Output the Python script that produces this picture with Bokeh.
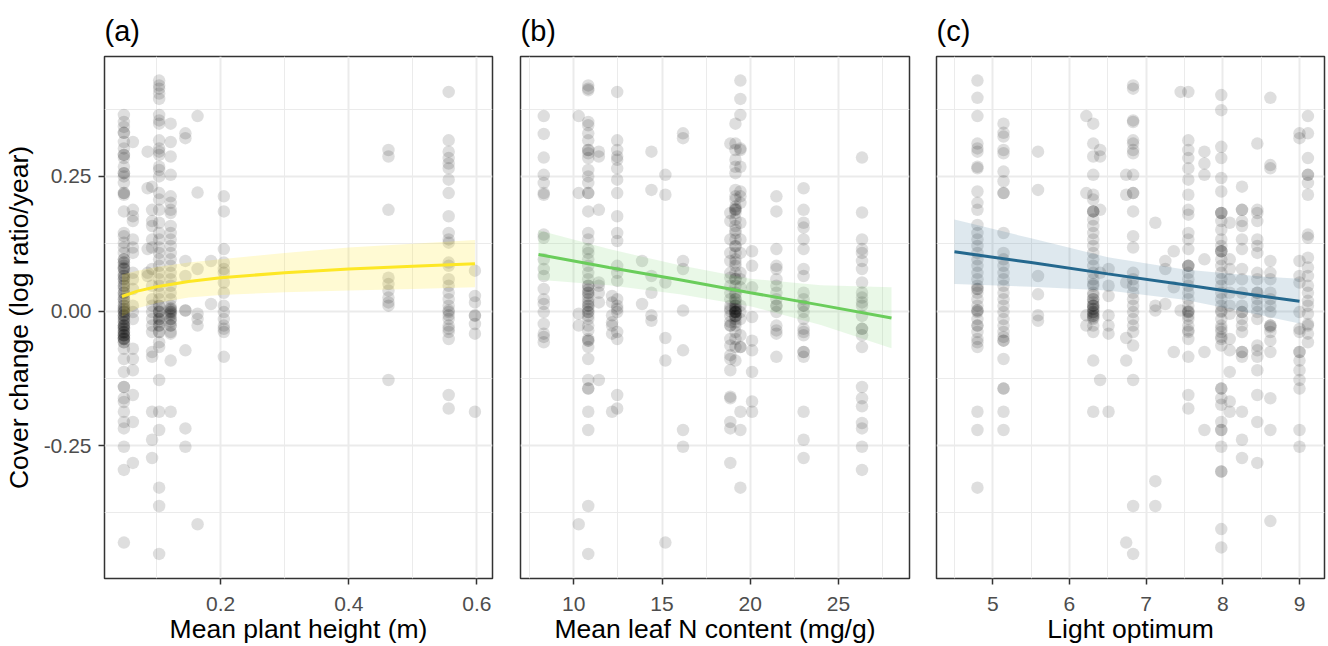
from bokeh.plotting import figure
from bokeh.layouts import row
from bokeh.models import FixedTicker, Range1d, NumeralTickFormatter
from bokeh.embed import file_html
from bokeh.resources import INLINE

# ---------------- data ----------------
# Panel (a): mean plant height (m) -> columns of species values
height_x = [0.049, 0.063, 0.086, 0.093, 0.104, 0.122, 0.145, 0.164, 0.185, 0.205, 0.462, 0.556, 0.597]
height_y = [
    [0.364, 0.351, 0.342, 0.331, 0.331, 0.314, 0.302, 0.290, 0.290, 0.284, 0.268, 0.256, 0.256, 0.250, 0.238,
     0.219, 0.219, 0.216, 0.185, 0.145, 0.139, 0.127, 0.118, 0.108, 0.096, 0.096, 0.090, 0.084, 0.078, 0.071,
     0.065, 0.059, 0.053, 0.047, 0.041, 0.034, 0.028, 0.022, 0.016, 0.010, 0.004, -0.002, -0.008, -0.015,
     -0.021, -0.027, -0.027, -0.033, -0.039, -0.045, -0.052, -0.052, -0.058, -0.070, -0.089, -0.113, -0.141,
     -0.141, -0.162, -0.169, -0.187, -0.206, -0.218, -0.252, -0.295, -0.430,
     0.090, 0.078, 0.065, 0.047, 0.034, 0.022, 0.010, -0.002, -0.015, -0.039, -0.045, -0.058,
     0.004, -0.008, -0.027, -0.033, -0.045, -0.052,
     0.000, -0.010, -0.020, -0.030, -0.040, -0.050, 0.060, 0.080],
    [0.314, 0.188, 0.176, 0.167, 0.133, 0.118, 0.108, 0.071, 0.059, 0.041, 0.010, -0.002, -0.015, -0.070,
     -0.089, -0.110, -0.156, -0.206, -0.282],
    [0.296, 0.228, 0.115, 0.071, 0.065],
    [0.231, 0.188, 0.167, 0.158, 0.133, 0.118, 0.078, 0.047, 0.022, 0.010, -0.002, -0.015, -0.027, -0.039,
     -0.076, -0.085, -0.187, -0.239, -0.273],
    [0.428, 0.419, 0.413, 0.404, 0.394, 0.364, 0.354, 0.348, 0.317, 0.302, 0.296, 0.290, 0.268, 0.262, 0.250,
     0.219, 0.207, 0.188, 0.164, 0.145, 0.133, 0.118, 0.108, 0.096, 0.084, 0.071, 0.059, 0.047, 0.034, 0.022,
     0.010, -0.002, -0.015, -0.027, -0.039, -0.002, -0.015, -0.027, -0.039, -0.058, -0.067, -0.128, -0.187,
     -0.221, -0.328, -0.362, -0.451, 0.000, -0.010, -0.020, 0.010],
    [0.348, 0.314, 0.287, 0.253, 0.213, 0.201, 0.188, 0.182, 0.158, 0.145, 0.133, 0.121, 0.108, 0.096, 0.084,
     0.071, 0.059, 0.047, 0.034, 0.022, 0.010, 0.004, -0.002, -0.015, -0.027, -0.039, -0.002, -0.027, -0.042,
     -0.092, -0.187, 0.001, -0.008, -0.020, -0.005, -0.015, 0.005],
    [0.330, 0.321, 0.093, 0.065, 0.001, 0.001, -0.073, -0.218, -0.252],
    [0.362, 0.220, 0.078, -0.005, -0.015, -0.027, -0.396],
    [0.093, 0.013],
    [0.213, 0.185, 0.115, 0.090, 0.078, 0.071, 0.053, 0.034, 0.010, -0.002, -0.015, -0.027, -0.039, -0.033,
     -0.085],
    [0.299, 0.287, 0.188, 0.062, 0.050, 0.038, 0.025, 0.016, 0.010, -0.128],
    [0.407, 0.317, 0.296, 0.284, 0.274, 0.265, 0.244, 0.219, 0.176, 0.145, 0.133, 0.127, 0.090, 0.084, 0.059,
     0.047, 0.034, 0.022, 0.010, 0.001, -0.002, -0.008, -0.027, -0.039, -0.015, -0.033, -0.052, -0.156, -0.181],
    [0.075, 0.028, 0.016, -0.008, -0.024, -0.042, -0.009, -0.187],
]
height_fit_x = [0.046, 0.07, 0.1, 0.15, 0.2, 0.3, 0.4, 0.5, 0.597]
height_fit_y = [0.027, 0.037, 0.045, 0.055, 0.062, 0.071, 0.078, 0.083, 0.088]
height_fit_lo = [-0.010, 0.005, 0.015, 0.025, 0.030, 0.035, 0.038, 0.041, 0.044]
height_fit_hi = [0.068, 0.075, 0.082, 0.090, 0.096, 0.108, 0.118, 0.125, 0.132]

# Panel (b): mean leaf N content (mg/g)
leafn_x = [8.3, 10.28, 10.82, 11.42, 12.17, 12.46, 13.87, 14.40, 15.19, 16.19, 18.87, 19.16, 19.44, 20.10,
           21.48, 23.02, 26.33]
leafn_y = [
    [0.362, 0.329, 0.285, 0.253, 0.238, 0.219, 0.216, 0.142, 0.136, 0.096, 0.078, 0.065, 0.041, 0.022, 0.013,
     -0.002, -0.024, -0.042, -0.048, -0.058],
    [0.362, 0.219, -0.005, -0.027, -0.396],
    [0.419, 0.413, 0.410, 0.351, 0.345, 0.330, 0.317, 0.299, 0.299, 0.293, 0.284, 0.262, 0.250, 0.238, 0.219,
     0.219, 0.185, 0.145, 0.133, 0.115, 0.108, 0.096, 0.084, 0.071, 0.059, 0.047, 0.047, 0.034, 0.034, 0.028,
     0.022, 0.010, 0.010, 0.004, -0.002, -0.009, -0.015, -0.027, -0.036, -0.052, -0.055, -0.055, -0.067,
     -0.089, -0.128, -0.144, -0.144, -0.187, -0.221, -0.362, -0.451, 0.040, 0.016, -0.002],
    [0.296, 0.287, 0.188, 0.053, 0.047, 0.034, 0.016, -0.128],
    [0.028, 0.016, -0.008, -0.021, -0.027, -0.042, -0.187],
    [0.407, 0.317, 0.299, 0.287, 0.281, 0.265, 0.244, 0.219, 0.176, 0.145, 0.130, 0.084, 0.071, 0.056, 0.022,
     0.010, 0.004, -0.002, -0.039, -0.052, -0.156, -0.181],
    [0.093, 0.013],
    [0.296, 0.225, 0.065, 0.034, -0.008, -0.018],
    [0.253, 0.216, 0.053, -0.050, -0.092, -0.430],
    [0.330, 0.321, 0.093, 0.078, 0.001, -0.073, -0.221, -0.252],
    [0.311, 0.182, 0.167, 0.133, 0.108, 0.093, 0.071, 0.062, 0.047, 0.034, 0.022, 0.010, 0.004, -0.009,
     -0.027, -0.027, -0.052, -0.064, -0.082, -0.089, -0.110, -0.159, -0.162, -0.206, -0.218, -0.282,
     0.000, -0.020],
    [0.348, 0.311, 0.299, 0.281, 0.268, 0.256, 0.225, 0.213, 0.207, 0.194, 0.188, 0.188, 0.182, 0.170, 0.158,
     0.145, 0.133, 0.121, 0.108, 0.096, 0.084, 0.071, 0.059, 0.047, 0.034, 0.022, 0.010, -0.002, -0.002, 0.004,
     -0.009, -0.015, -0.021, -0.027, -0.039, -0.052, -0.067, -0.092, 0.010, 0.016, -0.002, -0.009,
     0.004, -0.002, 0.022, 0.150, 0.120, 0.090, 0.060, 0.030, 0.000, -0.010, 0.190],
    [0.428, 0.394, 0.364, 0.302, 0.299, 0.268, 0.222, 0.213, 0.201, 0.164, 0.133, 0.108, 0.071, 0.059, 0.044,
     0.010, -0.002, -0.015, -0.045, -0.067, -0.067, -0.187, -0.221, -0.328],
    [0.111, 0.084, 0.044, -0.011, -0.055, -0.073, -0.113, -0.168, -0.187],
    [0.213, 0.185, 0.115, 0.084, 0.078, 0.059, 0.047, 0.034, 0.022, 0.010, 0.010, -0.002, -0.027, -0.036,
     -0.042, -0.085],
    [0.228, 0.188, 0.164, 0.155, 0.133, 0.115, 0.078, 0.065, 0.034, 0.022, 0.010, 0.010, -0.002, -0.015,
     -0.033, -0.039, -0.045, -0.076, -0.076, -0.085, -0.187, -0.239, -0.273],
    [0.285, 0.183, 0.133, 0.115, 0.108, 0.093, 0.078, 0.053, 0.034, 0.025, 0.016, 0.010, -0.009, -0.033,
     -0.033, -0.045, -0.067, -0.141, -0.162, -0.177, -0.208, -0.218, -0.252, -0.295],
]
leafn_fit_x = [8, 12, 16, 20, 24, 28]
leafn_fit_y = [0.105, 0.081, 0.058, 0.034, 0.011, -0.013]
leafn_fit_lo = [0.058, 0.048, 0.031, 0.009, -0.026, -0.069]
leafn_fit_hi = [0.150, 0.115, 0.085, 0.060, 0.048, 0.044]

# Panel (c): light optimum
light_x = [4.80, 5.14, 5.59, 6.22, 6.31, 6.40, 6.51, 6.74, 6.83, 7.12, 7.25, 7.36, 7.45, 7.55, 7.76, 7.98,
           8.09, 8.25, 8.45, 8.62, 9.00, 9.11]
light_y = [
    [0.428, 0.396, 0.362, 0.311, 0.302, 0.296, 0.268, 0.265, 0.222, 0.201, 0.188, 0.160, 0.145, 0.133, 0.121,
     0.108, 0.096, 0.084, 0.071, 0.059, 0.047, 0.041, 0.041, 0.034, 0.022, 0.010, 0.001, 0.001, -0.002, -0.015,
     -0.027, -0.027, -0.039, -0.052, -0.058, -0.067, -0.187, -0.221, -0.328],
    [0.348, 0.331, 0.324, 0.299, 0.293, 0.259, 0.241, 0.219, 0.219, 0.145, 0.108, 0.096, 0.084, 0.071, 0.059,
     0.047, 0.034, 0.022, 0.010, -0.002, -0.015, -0.027, -0.039, -0.048, -0.055, -0.055, -0.089, -0.144,
     -0.144, -0.187, -0.221],
    [0.296, 0.225, 0.065, 0.031, -0.008, -0.018],
    [0.362, 0.219, -0.008, -0.027],
    [0.348, 0.311, 0.287, 0.253, 0.216, 0.207, 0.185, 0.185, 0.170, 0.158, 0.145, 0.133, 0.121, 0.108, 0.096,
     0.084, 0.071, 0.059, 0.047, 0.034, 0.022, 0.022, 0.010, 0.010, -0.002, -0.002, -0.015, -0.027, -0.039,
     0.004, -0.009, -0.009, -0.092, -0.187, 0.016, 0.004, -0.005, -0.012, 0.030, 0.050, 0.185, 0.010],
    [0.299, 0.287, 0.188, 0.071, -0.128],
    [0.078, 0.047, 0.028, -0.008, -0.027, -0.042, -0.187],
    [0.253, 0.216, 0.053, -0.050, -0.092, -0.430],
    [0.419, 0.413, 0.354, 0.351, 0.317, 0.311, 0.299, 0.293, 0.253, 0.219, 0.219, 0.185, 0.139, 0.118, 0.071,
     0.059, 0.047, 0.034, 0.022, 0.010, -0.002, -0.015, -0.027, -0.039, -0.064, -0.128, -0.362, -0.451],
    [0.164, 0.010, 0.001, -0.316, -0.362],
    [0.093, 0.078, 0.013],
    [0.111, 0.044, -0.076],
    [0.407, 0.001],
    [0.407, 0.317, 0.299, 0.284, 0.265, 0.244, 0.216, 0.188, 0.179, 0.145, 0.133, 0.115, 0.084, 0.084, 0.071,
     0.059, 0.047, 0.034, 0.022, 0.010, -0.002, -0.002, -0.015, -0.027, -0.039, -0.009, -0.036, -0.052,
     -0.085, -0.156, -0.181, 0.000, 0.084],
    [0.296, 0.274, 0.253, 0.096, -0.076, -0.221],
    [0.401, 0.373, 0.305, 0.284, 0.247, 0.222, 0.182, 0.182, 0.167, 0.151, 0.133, 0.121, 0.111, 0.111, 0.096,
     0.084, 0.071, 0.059, 0.047, 0.034, 0.022, 0.010, -0.002, -0.015, -0.027, -0.039, -0.048, -0.033, -0.052,
     -0.064, -0.144, -0.144, -0.162, -0.174, -0.206, -0.221, -0.221, -0.252, -0.298, -0.298, -0.405, -0.439,
     0.111, 0.182, 0.000],
    [0.164, 0.096, 0.078, 0.059, 0.034, 0.010, -0.005, -0.052, -0.073, -0.113, -0.168, -0.187],
    [0.231, 0.188, 0.188, 0.167, 0.158, 0.133, 0.115, 0.078, 0.059, 0.034, 0.010, -0.002, -0.002, -0.015,
     -0.027, -0.039, -0.076, -0.076, -0.085, -0.187, -0.239, -0.273],
    [0.311, 0.188, 0.182, 0.167, 0.133, 0.121, 0.108, 0.071, 0.059, 0.034, 0.034, 0.022, 0.010, -0.002,
     -0.015, -0.064, -0.073, -0.085, -0.110, -0.156, -0.206, -0.282],
    [0.396, 0.271, 0.265, 0.093, 0.071, 0.059, 0.034, 0.022, 0.010, -0.002, -0.027, -0.027, -0.030, -0.039,
     -0.055, -0.076, -0.162, -0.221, -0.390],
    [0.330, 0.321, 0.093, 0.065, 0.053, -0.002, -0.033, -0.039, -0.076, -0.076, -0.092, -0.110, -0.128,
     -0.144, -0.221, -0.252],
    [0.362, 0.330, 0.284, 0.253, 0.253, 0.238, 0.216, 0.142, 0.136, 0.099, 0.081, 0.065, 0.047, 0.034, 0.019,
     0.010, -0.005, -0.027, -0.042, -0.024, -0.058],
]
light_fit_x = [4.5, 5.5, 6.5, 7.5, 8.5, 9.0]
light_fit_y = [0.110, 0.090, 0.069, 0.049, 0.028, 0.018]
light_fit_lo = [0.050, 0.045, 0.038, 0.021, -0.008, -0.023]
light_fit_hi = [0.170, 0.135, 0.100, 0.077, 0.064, 0.060]

y_ticks = [-0.25, 0.0, 0.25]
y_minor = [-0.375, -0.125, 0.125, 0.375]

FONT = "Liberation Sans"


def panel(tag, cols_x, cols_y, fx, fy, flo, fhi, color, rib_alpha, xr, xticks, xminor, xfmt, xlabel,
          first, bl, br, fw):
    xs, ys = [], []
    for cx, cy in zip(cols_x, cols_y):
        xs.extend([cx] * len(cy))
        ys.extend(cy)
    p = figure(width=bl + fw + br, height=646, x_range=Range1d(*xr), y_range=Range1d(-0.4967, 0.4727),
               output_backend="svg", toolbar_location=None, title=tag,
               min_border_left=bl, min_border_right=br, min_border_top=56, min_border_bottom=65)
    p.title.text_font = FONT
    p.title.text_font_size = "29px"
    p.title.text_font_style = "normal"
    p.title.text_color = "black"
    p.title.align = "left"
    p.title.offset = 0
    p.title.standoff = 20
    p.outline_line_color = "#333333"
    p.outline_line_width = 1.5
    p.outline_line_alpha = 1.0

    # grids
    p.xgrid.ticker = FixedTicker(ticks=xticks, minor_ticks=xminor)
    p.ygrid.ticker = FixedTicker(ticks=y_ticks, minor_ticks=y_minor)
    for g in (p.xgrid, p.ygrid):
        g.grid_line_color = "#EBEBEB"
        g.grid_line_width = 2
        g.minor_grid_line_color = "#EBEBEB"
        g.minor_grid_line_width = 1

    ax = p.xaxis[0]
    ax.ticker = FixedTicker(ticks=xticks)
    ax.formatter = NumeralTickFormatter(format=xfmt)
    ax.axis_label = xlabel
    for a in (p.xaxis[0], p.yaxis[0]):
        a.axis_line_color = None
        a.major_tick_line_color = "#333333"
        a.major_tick_line_width = 1.5
        a.major_tick_out = 6
        a.major_tick_in = 0
        a.minor_tick_line_color = None
        a.major_label_text_font = FONT
        a.major_label_text_font_size = "21px"
        a.major_label_text_color = "#4D4D4D"
        a.axis_label_text_font = FONT
        a.axis_label_text_font_size = "26.5px"
        a.axis_label_text_font_style = "normal"
        a.axis_label_text_color = "black"
    ax.major_label_standoff = 12
    ax.axis_label_standoff = 0

    ay = p.yaxis[0]
    if first:
        ay.ticker = FixedTicker(ticks=y_ticks)
        ay.formatter = NumeralTickFormatter(format="0.00")
        ay.axis_label = "Cover change (log ratio/year)"
        ay.major_label_standoff = 7
        ay.axis_label_standoff = 7
    else:
        ay.visible = False

    p.scatter(xs, ys, size=12.5, fill_color="black", fill_alpha=0.13, line_color=None)
    p.varea(x=fx, y1=flo, y2=fhi, fill_color=color, fill_alpha=rib_alpha)
    p.line(fx, fy, line_color=color, line_width=3)
    return p


pa = panel("(a)", height_x, height_y, height_fit_x, height_fit_y, height_fit_lo, height_fit_hi,
           "#FDE725", 0.2, (0.0187, 0.6244), [0.2, 0.4, 0.6], [0.1, 0.3, 0.5], "0.0",
           "Mean plant height (m)", True, 103, 14, 389)
pb = panel("(b)", leafn_x, leafn_y, leafn_fit_x, leafn_fit_y, leafn_fit_lo, leafn_fit_hi,
           "#6ACD5B", 0.15, (6.982, 29.02), [10, 15, 20, 25], [7.5, 12.5, 17.5, 22.5, 27.5], "0",
           "Mean leaf N content (mg/g)", False, 14, 13, 389)
pc = panel("(c)", light_x, light_y, light_fit_x, light_fit_y, light_fit_lo, light_fit_hi,
           "#24688E", 0.15, (4.266, 9.326), [5, 6, 7, 8, 9], [4.5, 5.5, 6.5, 7.5, 8.5], "0",
           "Light optimum", False, 14, 4, 388)

layout = row(pa, pb, pc)
open("out.html", "w").write(file_html(layout, INLINE))
